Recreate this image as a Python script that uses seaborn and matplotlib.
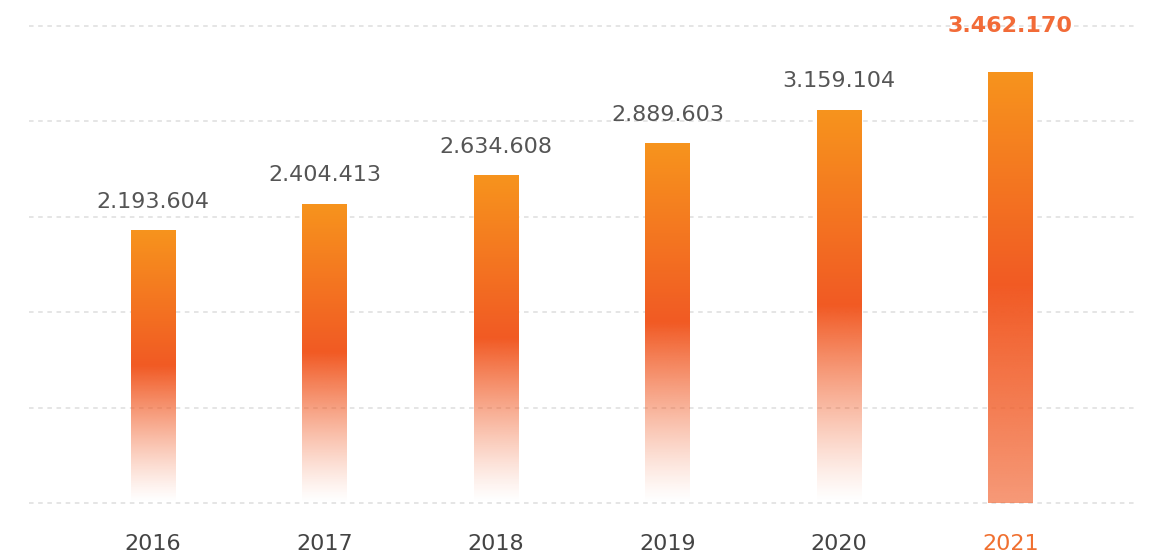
import numpy as np
import pandas as pd
import matplotlib
matplotlib.use("Agg")
import matplotlib.pyplot as plt
import seaborn as sns
from matplotlib.colors import to_rgb

years = ["2016", "2017", "2018", "2019", "2020", "2021"]
values = [2193604, 2404413, 2634608, 2889603, 3159104, 3462170]
highlight = "2021"

sns.set_theme(style="white")
plt.rcParams["font.family"] = ["DejaVu Sans"]

df = pd.DataFrame({"year": years, "value": values})

fig = plt.figure(figsize=(11.57, 5.59), dpi=100)
ax = fig.add_axes([29 / 1157, (559 - 503) / 559, (1135 - 29) / 1157, 477 / 559])

sns.barplot(data=df, x="year", y="value", ax=ax, width=0.26, color="#F26522",
            saturation=1, errorbar=None)

ymax = 3.83e6
ax.set_ylim(0, ymax)
ax.set_xlim(-0.723, 5.727)

# grid lines
for k in range(6):
    ax.axhline(ymax * k / 5, color="#dedede", lw=1.1, ls=(0, (3, 3)), zorder=0, clip_on=False)

top_c = np.array(to_rgb("#F7941D"))
mid_c = np.array(to_rgb("#F15A24"))

def grad(is_hi, n=256):
    img = np.zeros((n, 1, 4))
    for i in range(n):
        t = 1 - i / (n - 1)  # 1 at top, 0 at bottom
        if t >= 0.5:
            s = (t - 0.5) / 0.5
            c = mid_c * (1 - s) + top_c * s
            a = 1.0
        else:
            s = t / 0.5
            c = mid_c
            if is_hi:
                a = 0.62 + 0.38 * s
            else:
                a = s ** 1.2
        img[i, 0, :3] = c
        img[i, 0, 3] = a
    return img

for patch, yr in zip(ax.patches, years):
    x0, y0 = patch.get_x(), patch.get_y()
    w, h = patch.get_width(), patch.get_height()
    patch.set_facecolor("none")
    patch.set_edgecolor("none")
    im = ax.imshow(grad(yr == highlight), extent=[x0, x0 + w, y0, y0 + h],
                   aspect="auto", origin="upper", zorder=2, interpolation="bilinear")
    im.set_clip_path(patch)

ax.set_xlim(-0.723, 5.727)
ax.set_ylim(0, ymax)

for i, (yr, v) in enumerate(zip(years, values)):
    lab = f"{v:,}".replace(",", ".")
    if yr == highlight:
        ax.annotate(lab, (i, v), xytext=(0, 26), textcoords="offset points",
                    ha="center", va="bottom", fontsize=16, fontweight="bold",
                    color="#F26B38", annotation_clip=False)
    else:
        ax.annotate(lab, (i, v), xytext=(0, 13), textcoords="offset points",
                    ha="center", va="bottom", fontsize=16, color="#555555",
                    annotation_clip=False)

ax.set_xlabel("")
ax.set_ylabel("")
ax.set_yticks([])
ax.tick_params(axis="x", length=0, pad=22, labelsize=16, labelcolor="#444444")
for t in ax.get_xticklabels():
    if t.get_text() == highlight:
        t.set_color("#F07030")
for s in ax.spines.values():
    s.set_visible(False)

fig.savefig("out.png", dpi=100)
